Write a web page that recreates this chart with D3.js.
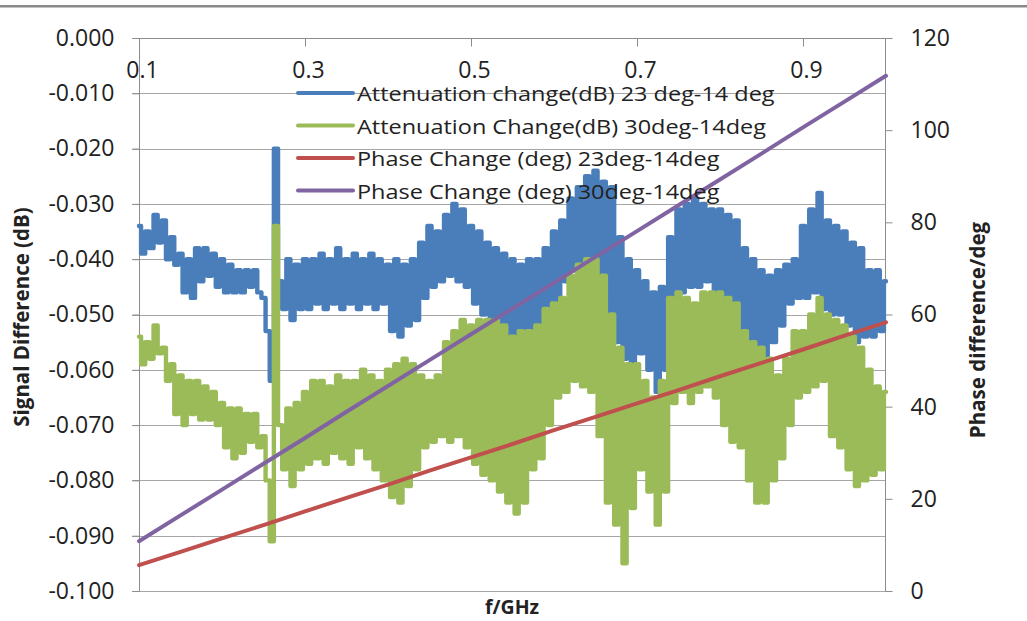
<!DOCTYPE html>
<html>
<head>
<meta charset="utf-8">
<script src="https://cdn.jsdelivr.net/npm/d3@7"></script>
<style>
  body { margin: 0; background: #fff; }
  text { font-family: "Open Sans", "Noto Sans", sans-serif; fill: #222; }
</style>
</head>
<body>
<div id="chart"></div>
<script>
// chart size
var svgWidth = 1027;
var svgHeight = 621;

// plot area edges
var plot = { left: 139, right: 886, top: 38, bottom: 591 };

// frequency grid of the measured traces (GHz)
var freqs = d3.range(0, 181).map(i => 0.1 + i * 0.005);

// attenuation change 23 deg - 14 deg, read in thousandths of a dB
var att23 = [
  -34,-39,-35,-38,-32,-37,-33,-40,-36,-41,
  -39,-46,-40,-47,-38,-44,-38,-43,-39,-45,
  -40,-46,-41,-46,-42,-46,-42,-45,-42,-46,
  -47,-53,-62,-20,-44,-49,-40,-51,-41,-49,
  -40,-49,-40,-48,-39,-49,-40,-48,-38,-49,
  -40,-48,-39,-49,-40,-48,-39,-49,-40,-48,
  -41,-53,-40,-54,-41,-52,-40,-51,-37,-47,
  -34,-45,-35,-44,-32,-43,-30,-44,-31,-45,
  -34,-48,-35,-50,-37,-52,-38,-53,-39,-54,
  -40,-55,-41,-56,-40,-55,-40,-55,-38,-52,
  -35,-48,-33,-44,-29,-42,-27,-41,-25,-43,
  -24,-44,-26,-50,-27,-55,-36,-58,-40,-60,
  -42,-57,-44,-60,-46,-64,-45,-60,-36,-48,
  -31,-46,-30,-45,-29,-45,-30,-44,-31,-46,
  -31,-48,-32,-51,-33,-53,-38,-57,-40,-59,
  -42,-65,-43,-55,-42,-52,-41,-48,-40,-47,
  -34,-47,-31,-46,-28,-49,-33,-50,-34,-50,
  -35,-52,-37,-55,-38,-54,-42,-54,-42,-53,
  -44
];

// attenuation change 30 deg - 14 deg, thousandths of a dB
var att30 = [
  -54,-59,-55,-58,-52,-57,-56,-62,-59,-68,
  -61,-70,-62,-68,-62,-69,-63,-69,-64,-70,
  -66,-74,-67,-76,-67,-75,-68,-73,-68,-74,
  -72,-80,-91,-34,-70,-78,-67,-81,-66,-78,
  -64,-77,-62,-76,-62,-77,-63,-75,-61,-76,
  -62,-77,-62,-74,-60,-76,-61,-78,-62,-80,
  -60,-83,-59,-84,-58,-81,-59,-78,-61,-74,
  -62,-73,-61,-72,-55,-73,-53,-72,-51,-74,
  -52,-77,-51,-79,-51,-80,-51,-82,-52,-84,
  -54,-86,-53,-84,-53,-78,-52,-76,-49,-70,
  -48,-65,-47,-64,-43,-62,-41,-63,-40,-64,
  -40,-72,-43,-84,-50,-88,-56,-95,-59,-85,
  -59,-78,-62,-82,-65,-88,-62,-82,-47,-66,
  -46,-64,-47,-66,-48,-64,-46,-63,-46,-65,
  -46,-70,-47,-73,-48,-74,-53,-80,-55,-84,
  -56,-84,-58,-80,-61,-76,-58,-70,-53,-65,
  -53,-64,-50,-63,-47,-62,-50,-72,-51,-74,
  -52,-78,-54,-81,-56,-80,-60,-79,-63,-78,
  -64
];

// phase traces (deg), read every 0.05 GHz
var phaseFreqs = [0.10,0.15,0.20,0.25,0.30,0.35,0.40,0.45,0.50,0.55,
                  0.60,0.65,0.70,0.75,0.80,0.85,0.90,0.95,1.00];
var phase23 = [5.6,8.5,11.4,14.3,17.3,20.2,23.1,26.1,29.0,31.9,
               34.9,37.8,40.7,43.6,46.6,49.5,52.4,55.4,58.3];
var phase30 = [10.8,16.4,22.0,27.6,33.2,38.9,44.5,50.1,55.7,61.3,
               66.9,72.5,78.1,83.7,89.3,94.9,100.6,106.2,111.8];

// tick values
var xTicks = [0.1, 0.3, 0.5, 0.7, 0.9];
var leftTicks = d3.range(0, 11).map(i => -i / 100);
var rightTicks = [0, 20, 40, 60, 80, 100, 120];

var legendNames = [
  'Attenuation change(dB) 23 deg-14 deg',
  'Attenuation Change(dB) 30deg-14deg',
  'Phase Change (deg) 23deg-14deg',
  'Phase Change (deg) 30deg-14deg'
];
var colors = ['#4a7ebb', '#9bbb59', '#c0504d', '#8064a2'];

var svg = d3.select('#chart')
  .append('svg')
  .attr('width', svgWidth)
  .attr('height', svgHeight);

svg.append('rect').attr('width', svgWidth).attr('height', svgHeight).attr('fill', '#fff');

// grey rule across the top of the picture
svg.append('rect')
  .attr('x', 0).attr('y', 5).attr('width', svgWidth).attr('height', 2.5)
  .attr('fill', '#8a8a8a');

// scales
var x = d3.scaleLinear().domain([0.1, 1.0]).range([plot.left, plot.right]);
var yLeft = d3.scaleLinear().domain([-0.1, 0]).range([plot.bottom, plot.top]);
var yRight = d3.scaleLinear().domain([0, 120]).range([plot.bottom, plot.top]);

// horizontal gridlines
svg.append('g')
  .selectAll('line')
  .data(leftTicks)
  .enter()
  .append('line')
  .attr('x1', plot.left - 7)
  .attr('x2', plot.right)
  .attr('y1', d => Math.round(yLeft(d)) + 0.5)
  .attr('y2', d => Math.round(yLeft(d)) + 0.5)
  .attr('stroke', '#a6a6a6')
  .attr('stroke-width', 1);

// plain hyphen for negatives, as in the original
var fmt3 = d => d3.format('.3f')(d).replace('\u2212', '-');

// left axis
var leftAxis = d3.axisLeft(yLeft)
  .tickValues(leftTicks)
  .tickFormat(fmt3)
  .tickSize(7)
  .tickPadding(18);
var gl = svg.append('g')
  .attr('transform', `translate(${plot.left + 0.5}, 0)`)
  .call(leftAxis);

// right axis
var rightAxis = d3.axisRight(yRight)
  .tickValues(rightTicks)
  .tickSize(7)
  .tickPadding(18);
var gr = svg.append('g')
  .attr('transform', `translate(${plot.right - 0.5}, 0)`)
  .call(rightAxis);

// frequency axis sits at the top, labels hang inside the plot
var topAxis = d3.axisBottom(x)
  .tickValues(xTicks)
  .tickFormat(d3.format('.1f'))
  .tickSize(8)
  .tickPadding(15);
var gt = svg.append('g')
  .attr('transform', `translate(0, ${plot.top + 0.5})`)
  .call(topAxis);

[gl, gr, gt].forEach(g => {
  g.select('.domain').attr('stroke', '#8c8c8c');
  g.selectAll('.tick line').attr('stroke', '#8c8c8c');
  g.selectAll('.tick text')
    .attr('font-family', '"Open Sans", sans-serif')
    .attr('font-size', 23)
    .attr('fill', '#222');
});
gl.select('.domain').attr('d', `M0,${plot.top}V${plot.bottom}`);
gr.select('.domain').attr('d', `M0,${plot.top}V${plot.bottom}`);
gt.select('.domain').attr('d', `M${plot.left},0H${plot.right}`);
gt.selectAll('.tick text').attr('dx', 3);

// noisy attenuation traces: stepped so the dense jitter reads as a solid band
var noisyLine = d3.line()
  .x(d => x(d[0]))
  .y(d => yLeft(d[1]))
  .curve(d3.curveStep);

var phaseLine = d3.line()
  .x(d => x(d[0]))
  .y(d => yRight(d[1]));

var noisy = [
  freqs.map((f, i) => [f, att23[i] / 1000]),
  freqs.map((f, i) => [f, att30[i] / 1000])
];
var phases = [
  phaseFreqs.map((f, i) => [f, phase23[i]]),
  phaseFreqs.map((f, i) => [f, phase30[i]])
];

svg.append('g')
  .selectAll('path')
  .data(noisy)
  .enter()
  .append('path')
  .attr('d', noisyLine)
  .attr('fill', 'none')
  .attr('stroke', (d, i) => colors[i])
  .attr('stroke-width', 4.4)
  .attr('stroke-linejoin', 'round')
  .attr('stroke-linecap', 'round');

svg.append('g')
  .selectAll('path')
  .data(phases)
  .enter()
  .append('path')
  .attr('d', phaseLine)
  .attr('fill', 'none')
  .attr('stroke', (d, i) => colors[i + 2])
  .attr('stroke-width', 4)
  .attr('stroke-linecap', 'round');

// legend
var legend = svg.append('g')
  .selectAll('g')
  .data(legendNames)
  .enter()
  .append('g')
  .attr('transform', (d, i) => `translate(298, ${93 + i * 32.5})`);

legend.append('line')
  .attr('x1', 0).attr('x2', 55)
  .attr('stroke', (d, i) => colors[i])
  .attr('stroke-width', 4)
  .attr('stroke-linecap', 'round');

// the source lettering is wide, so stretch it sideways a little
legend.append('text')
  .attr('transform', 'translate(59, 8) scale(1.145, 1)')
  .attr('font-size', 20.5)
  .text(d => d);

// axis titles
svg.append('text')
  .attr('transform', `translate(29, 317) rotate(-90)`)
  .attr('text-anchor', 'middle')
  .attr('font-size', 20.5)
  .attr('font-weight', 'bold')
  .attr('fill', '#000')
  .text('Signal Difference (dB)');

svg.append('text')
  .attr('transform', `translate(985, 330) rotate(-90)`)
  .attr('text-anchor', 'middle')
  .attr('font-size', 20.5)
  .attr('font-weight', 'bold')
  .attr('fill', '#000')
  .text('Phase difference/deg');

svg.append('text')
  .attr('x', 512)
  .attr('y', 614)
  .attr('text-anchor', 'middle')
  .attr('font-size', 19.5)
  .attr('font-weight', 'bold')
  .attr('fill', '#000')
  .text('f/GHz');
</script>
</body>
</html>
